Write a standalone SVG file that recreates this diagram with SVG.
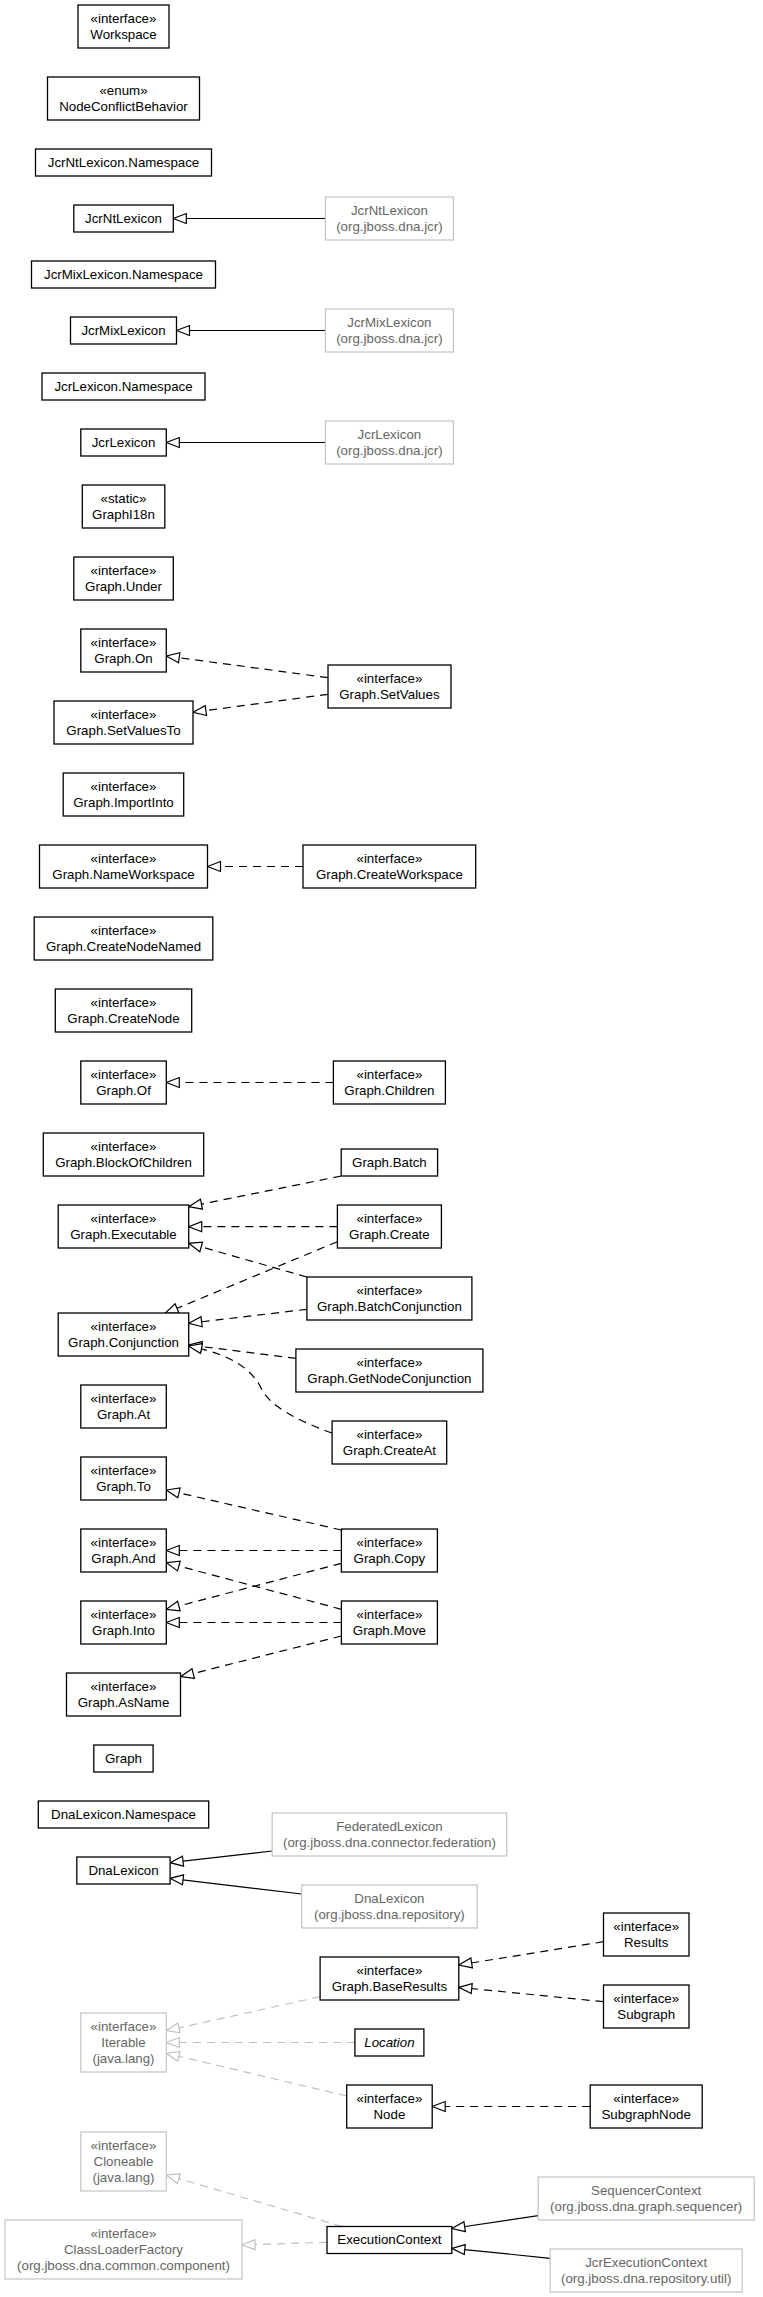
<svg xmlns="http://www.w3.org/2000/svg" width="763" height="2297" viewBox="0 0 763 2297">
<style>
.b{fill:#fff;stroke:#000;stroke-width:1.3}
.g{fill:#fff;stroke:#c8c8c8;stroke-width:1.3}
text{font-family:"Liberation Sans",Arial,sans-serif;font-size:13.3px;text-anchor:middle;fill:#000}
.gt{fill:#666}
.it{font-style:italic}
.s{fill:none;stroke:#000;stroke-width:1.2;marker-end:url(#hb)}
.d{fill:none;stroke:#000;stroke-width:1.2;stroke-dasharray:8,6;marker-end:url(#hb)}
.gd{fill:none;stroke:#c0c0c0;stroke-width:1.2;stroke-dasharray:8,6;marker-end:url(#hg)}
</style>
<defs>
<marker id="hb" viewBox="-2 -7 17 14" refX="13" refY="0" markerWidth="17" markerHeight="14" markerUnits="userSpaceOnUse" orient="auto">
<path d="M0,-5 L13,0 L0,5 Z" fill="#fff" stroke="#000" stroke-width="1.2" stroke-dasharray="none"/>
</marker>
<marker id="hg" viewBox="-2 -7 17 14" refX="13" refY="0" markerWidth="17" markerHeight="14" markerUnits="userSpaceOnUse" orient="auto">
<path d="M0,-5 L13,0 L0,5 Z" fill="#fff" stroke="#c0c0c0" stroke-width="1.2" stroke-dasharray="none"/>
</marker>
</defs>
<rect width="763" height="2297" fill="#fff"/>
<g id="edges">
<path class="s" d="M325.4,218.5 L173.3,218.5"/>
<path class="s" d="M325.4,330.5 L176.5,330.5"/>
<path class="s" d="M325.4,442.5 L166.3,442.5"/>
<path class="s" d="M272.2,1851 L170.1,1862.7"/>
<path class="s" d="M301.7,1894 L170.1,1878.3"/>
<path class="s" d="M538.2,2215.7 L451.8,2228.5"/>
<path class="s" d="M550.2,2258.3 L451.8,2248.3"/>
<path class="d" d="M328,677.7 L166.3,656"/>
<path class="d" d="M328,694.3 L193,712.3"/>
<path class="d" d="M303,866.5 L207.5,866.5"/>
<path class="d" d="M333.4,1082.5 L166.3,1082.5"/>
<path class="d" d="M341.2,1176 L188.7,1206.7"/>
<path class="d" d="M337.4,1226.7 L188.7,1226.7"/>
<path class="d" d="M306.9,1277 L188.7,1243.3"/>
<path class="d" d="M337.4,1241.7 L165,1313.3"/>
<path class="d" d="M306.9,1309.3 L188.7,1323.3"/>
<path class="d" d="M296,1358.3 L188.7,1345"/>
<path class="d" d="M332.1,1433 C295,1420 270,1405 262,1390 C254,1372 235,1355 188.7,1346"/>
<path class="d" d="M341.4,1530 L166.3,1490"/>
<path class="d" d="M341.4,1550.5 L166.3,1550.5"/>
<path class="d" d="M341.4,1563.3 L166.3,1609.3"/>
<path class="d" d="M341.4,1609.3 L166.3,1562.7"/>
<path class="d" d="M341.4,1622.5 L166.3,1622.5"/>
<path class="d" d="M341.4,1636 L180.6,1676.7"/>
<path class="d" d="M603.5,1941.7 L458.8,1965"/>
<path class="d" d="M603.5,2001.7 L458.8,1987.3"/>
<path class="d" d="M590.2,2106.5 L432.2,2106.5"/>
<path class="gd" d="M320.1,1996.7 L166.3,2030.7"/>
<path class="gd" d="M354.9,2042.5 L166.3,2042.5"/>
<path class="gd" d="M346.7,2096 L166.3,2053.3"/>
<path class="gd" d="M342.2,2226.5 L166.3,2175"/>
<path class="gd" d="M327,2242.3 L242,2245"/>
</g>
<g id="Workspace"><rect class="b" x="78" y="5" width="91" height="43"/><text x="123.5" y="22.7">«interface»</text><text x="123.5" y="38.7">Workspace</text></g>
<g id="NodeConflictBehavior"><rect class="b" x="47.5" y="77" width="152" height="43"/><text x="123.5" y="94.7">«enum»</text><text x="123.5" y="110.7">NodeConflictBehavior</text></g>
<g id="JcrNtLexicon.Namespace"><rect class="b" x="35.5" y="149" width="176" height="27"/><text x="123.5" y="166.7">JcrNtLexicon.Namespace</text></g>
<g id="JcrNtLexicon"><rect class="b" x="73.8" y="205" width="99.5" height="27"/><text x="123.5" y="222.7">JcrNtLexicon</text></g>
<g id="JcrNtLexicon.jcr"><rect class="g" x="325.4" y="197" width="128" height="43"/><text class="gt" x="389.4" y="214.7">JcrNtLexicon</text><text class="gt" x="389.4" y="230.7">(org.jboss.dna.jcr)</text></g>
<g id="JcrMixLexicon.Namespace"><rect class="b" x="31.5" y="261" width="184" height="27"/><text x="123.5" y="278.7">JcrMixLexicon.Namespace</text></g>
<g id="JcrMixLexicon"><rect class="b" x="70.5" y="317" width="106" height="27"/><text x="123.5" y="334.7">JcrMixLexicon</text></g>
<g id="JcrMixLexicon.jcr"><rect class="g" x="325.4" y="309" width="128" height="43"/><text class="gt" x="389.4" y="326.7">JcrMixLexicon</text><text class="gt" x="389.4" y="342.7">(org.jboss.dna.jcr)</text></g>
<g id="JcrLexicon.Namespace"><rect class="b" x="42" y="373" width="163" height="27"/><text x="123.5" y="390.7">JcrLexicon.Namespace</text></g>
<g id="JcrLexicon"><rect class="b" x="80.8" y="429" width="85.5" height="27"/><text x="123.5" y="446.7">JcrLexicon</text></g>
<g id="JcrLexicon.jcr"><rect class="g" x="325.4" y="421" width="128" height="43"/><text class="gt" x="389.4" y="438.7">JcrLexicon</text><text class="gt" x="389.4" y="454.7">(org.jboss.dna.jcr)</text></g>
<g id="GraphI18n"><rect class="b" x="82.3" y="485" width="82.5" height="43"/><text x="123.5" y="502.7">«static»</text><text x="123.5" y="518.7">GraphI18n</text></g>
<g id="Graph.Under"><rect class="b" x="73.8" y="557" width="99.5" height="43"/><text x="123.5" y="574.7">«interface»</text><text x="123.5" y="590.7">Graph.Under</text></g>
<g id="Graph.On"><rect class="b" x="80.8" y="629" width="85.5" height="43"/><text x="123.5" y="646.7">«interface»</text><text x="123.5" y="662.7">Graph.On</text></g>
<g id="Graph.SetValues"><rect class="b" x="328" y="665" width="123" height="43"/><text x="389.4" y="682.7">«interface»</text><text x="389.4" y="698.7">Graph.SetValues</text></g>
<g id="Graph.SetValuesTo"><rect class="b" x="54" y="701" width="139" height="43"/><text x="123.5" y="718.7">«interface»</text><text x="123.5" y="734.7">Graph.SetValuesTo</text></g>
<g id="Graph.ImportInto"><rect class="b" x="63.2" y="773" width="120.5" height="43"/><text x="123.5" y="790.7">«interface»</text><text x="123.5" y="806.7">Graph.ImportInto</text></g>
<g id="Graph.NameWorkspace"><rect class="b" x="39.5" y="845" width="168" height="43"/><text x="123.5" y="862.7">«interface»</text><text x="123.5" y="878.7">Graph.NameWorkspace</text></g>
<g id="Graph.CreateWorkspace"><rect class="b" x="303" y="845" width="172.7" height="43"/><text x="389.4" y="862.7">«interface»</text><text x="389.4" y="878.7">Graph.CreateWorkspace</text></g>
<g id="Graph.CreateNodeNamed"><rect class="b" x="34.2" y="917" width="178.6" height="43"/><text x="123.5" y="934.7">«interface»</text><text x="123.5" y="950.7">Graph.CreateNodeNamed</text></g>
<g id="Graph.CreateNode"><rect class="b" x="55.3" y="989" width="136.4" height="43"/><text x="123.5" y="1006.7">«interface»</text><text x="123.5" y="1022.7">Graph.CreateNode</text></g>
<g id="Graph.Of"><rect class="b" x="80.8" y="1061" width="85.5" height="43"/><text x="123.5" y="1078.7">«interface»</text><text x="123.5" y="1094.7">Graph.Of</text></g>
<g id="Graph.Children"><rect class="b" x="333.4" y="1061" width="112" height="43"/><text x="389.4" y="1078.7">«interface»</text><text x="389.4" y="1094.7">Graph.Children</text></g>
<g id="Graph.BlockOfChildren"><rect class="b" x="43.3" y="1133" width="160.4" height="43"/><text x="123.5" y="1150.7">«interface»</text><text x="123.5" y="1166.7">Graph.BlockOfChildren</text></g>
<g id="Graph.Batch"><rect class="b" x="341.2" y="1149" width="96.4" height="27"/><text x="389.4" y="1166.7">Graph.Batch</text></g>
<g id="Graph.Executable"><rect class="b" x="58.2" y="1205" width="130.5" height="43"/><text x="123.5" y="1222.7">«interface»</text><text x="123.5" y="1238.7">Graph.Executable</text></g>
<g id="Graph.Create"><rect class="b" x="337.4" y="1205" width="104" height="43"/><text x="389.4" y="1222.7">«interface»</text><text x="389.4" y="1238.7">Graph.Create</text></g>
<g id="Graph.BatchConjunction"><rect class="b" x="306.9" y="1277" width="165" height="43"/><text x="389.4" y="1294.7">«interface»</text><text x="389.4" y="1310.7">Graph.BatchConjunction</text></g>
<g id="Graph.Conjunction"><rect class="b" x="58.2" y="1313" width="130.5" height="43"/><text x="123.5" y="1330.7">«interface»</text><text x="123.5" y="1346.7">Graph.Conjunction</text></g>
<g id="Graph.GetNodeConjunction"><rect class="b" x="295.9" y="1349" width="187" height="43"/><text x="389.4" y="1366.7">«interface»</text><text x="389.4" y="1382.7">Graph.GetNodeConjunction</text></g>
<g id="Graph.At"><rect class="b" x="80.8" y="1385" width="85.5" height="43"/><text x="123.5" y="1402.7">«interface»</text><text x="123.5" y="1418.7">Graph.At</text></g>
<g id="Graph.CreateAt"><rect class="b" x="332.1" y="1421" width="114.6" height="43"/><text x="389.4" y="1438.7">«interface»</text><text x="389.4" y="1454.7">Graph.CreateAt</text></g>
<g id="Graph.To"><rect class="b" x="80.8" y="1457" width="85.5" height="43"/><text x="123.5" y="1474.7">«interface»</text><text x="123.5" y="1490.7">Graph.To</text></g>
<g id="Graph.And"><rect class="b" x="80.8" y="1529" width="85.5" height="43"/><text x="123.5" y="1546.7">«interface»</text><text x="123.5" y="1562.7">Graph.And</text></g>
<g id="Graph.Copy"><rect class="b" x="341.4" y="1529" width="96" height="43"/><text x="389.4" y="1546.7">«interface»</text><text x="389.4" y="1562.7">Graph.Copy</text></g>
<g id="Graph.Into"><rect class="b" x="80.8" y="1601" width="85.5" height="43"/><text x="123.5" y="1618.7">«interface»</text><text x="123.5" y="1634.7">Graph.Into</text></g>
<g id="Graph.Move"><rect class="b" x="341.4" y="1601" width="96" height="43"/><text x="389.4" y="1618.7">«interface»</text><text x="389.4" y="1634.7">Graph.Move</text></g>
<g id="Graph.AsName"><rect class="b" x="66.5" y="1673" width="114" height="43"/><text x="123.5" y="1690.7">«interface»</text><text x="123.5" y="1706.7">Graph.AsName</text></g>
<g id="Graph"><rect class="b" x="93.8" y="1745" width="59.3" height="27"/><text x="123.5" y="1762.7">Graph</text></g>
<g id="DnaLexicon.Namespace"><rect class="b" x="38.3" y="1801" width="170.4" height="27"/><text x="123.5" y="1818.7">DnaLexicon.Namespace</text></g>
<g id="FederatedLexicon"><rect class="g" x="272.2" y="1813" width="234.5" height="43"/><text class="gt" x="389.4" y="1830.7">FederatedLexicon</text><text class="gt" x="389.4" y="1846.7">(org.jboss.dna.connector.federation)</text></g>
<g id="DnaLexicon"><rect class="b" x="76.8" y="1857" width="93.3" height="27"/><text x="123.5" y="1874.7">DnaLexicon</text></g>
<g id="DnaLexicon.repository"><rect class="g" x="301.7" y="1885" width="175.5" height="43"/><text class="gt" x="389.4" y="1902.7">DnaLexicon</text><text class="gt" x="389.4" y="1918.7">(org.jboss.dna.repository)</text></g>
<g id="Results"><rect class="b" x="603.5" y="1913" width="85.5" height="43"/><text x="646.2" y="1930.7">«interface»</text><text x="646.2" y="1946.7">Results</text></g>
<g id="Graph.BaseResults"><rect class="b" x="320.1" y="1957" width="138.7" height="43"/><text x="389.4" y="1974.7">«interface»</text><text x="389.4" y="1990.7">Graph.BaseResults</text></g>
<g id="Subgraph"><rect class="b" x="603.5" y="1985" width="85.5" height="43"/><text x="646.2" y="2002.7">«interface»</text><text x="646.2" y="2018.7">Subgraph</text></g>
<g id="Iterable"><rect class="g" x="80.8" y="2013" width="85.5" height="59"/><text class="gt" x="123.5" y="2030.7">«interface»</text><text class="gt" x="123.5" y="2046.7">Iterable</text><text class="gt" x="123.5" y="2062.7">(java.lang)</text></g>
<g id="Location"><rect class="b" x="354.9" y="2029" width="69" height="27"/><text class="it" x="389.4" y="2046.7">Location</text></g>
<g id="Node"><rect class="b" x="346.7" y="2085" width="85.5" height="43"/><text x="389.4" y="2102.7">«interface»</text><text x="389.4" y="2118.7">Node</text></g>
<g id="SubgraphNode"><rect class="b" x="590.2" y="2085" width="112" height="43"/><text x="646.2" y="2102.7">«interface»</text><text x="646.2" y="2118.7">SubgraphNode</text></g>
<g id="Cloneable"><rect class="g" x="80.8" y="2132" width="85.5" height="59"/><text class="gt" x="123.5" y="2149.7">«interface»</text><text class="gt" x="123.5" y="2165.7">Cloneable</text><text class="gt" x="123.5" y="2181.7">(java.lang)</text></g>
<g id="SequencerContext"><rect class="g" x="538.2" y="2177" width="216" height="43"/><text class="gt" x="646.2" y="2194.7">SequencerContext</text><text class="gt" x="646.2" y="2210.7">(org.jboss.dna.graph.sequencer)</text></g>
<g id="ClassLoaderFactory"><rect class="g" x="5" y="2220" width="237" height="59"/><text class="gt" x="123.5" y="2237.7">«interface»</text><text class="gt" x="123.5" y="2253.7">ClassLoaderFactory</text><text class="gt" x="123.5" y="2269.7">(org.jboss.dna.common.component)</text></g>
<g id="ExecutionContext"><rect class="b" x="327" y="2226.5" width="124.8" height="27"/><text x="389.4" y="2244.2">ExecutionContext</text></g>
<g id="JcrExecutionContext"><rect class="g" x="550.2" y="2249" width="192" height="43"/><text class="gt" x="646.2" y="2266.7">JcrExecutionContext</text><text class="gt" x="646.2" y="2282.7">(org.jboss.dna.repository.util)</text></g>
</svg>
